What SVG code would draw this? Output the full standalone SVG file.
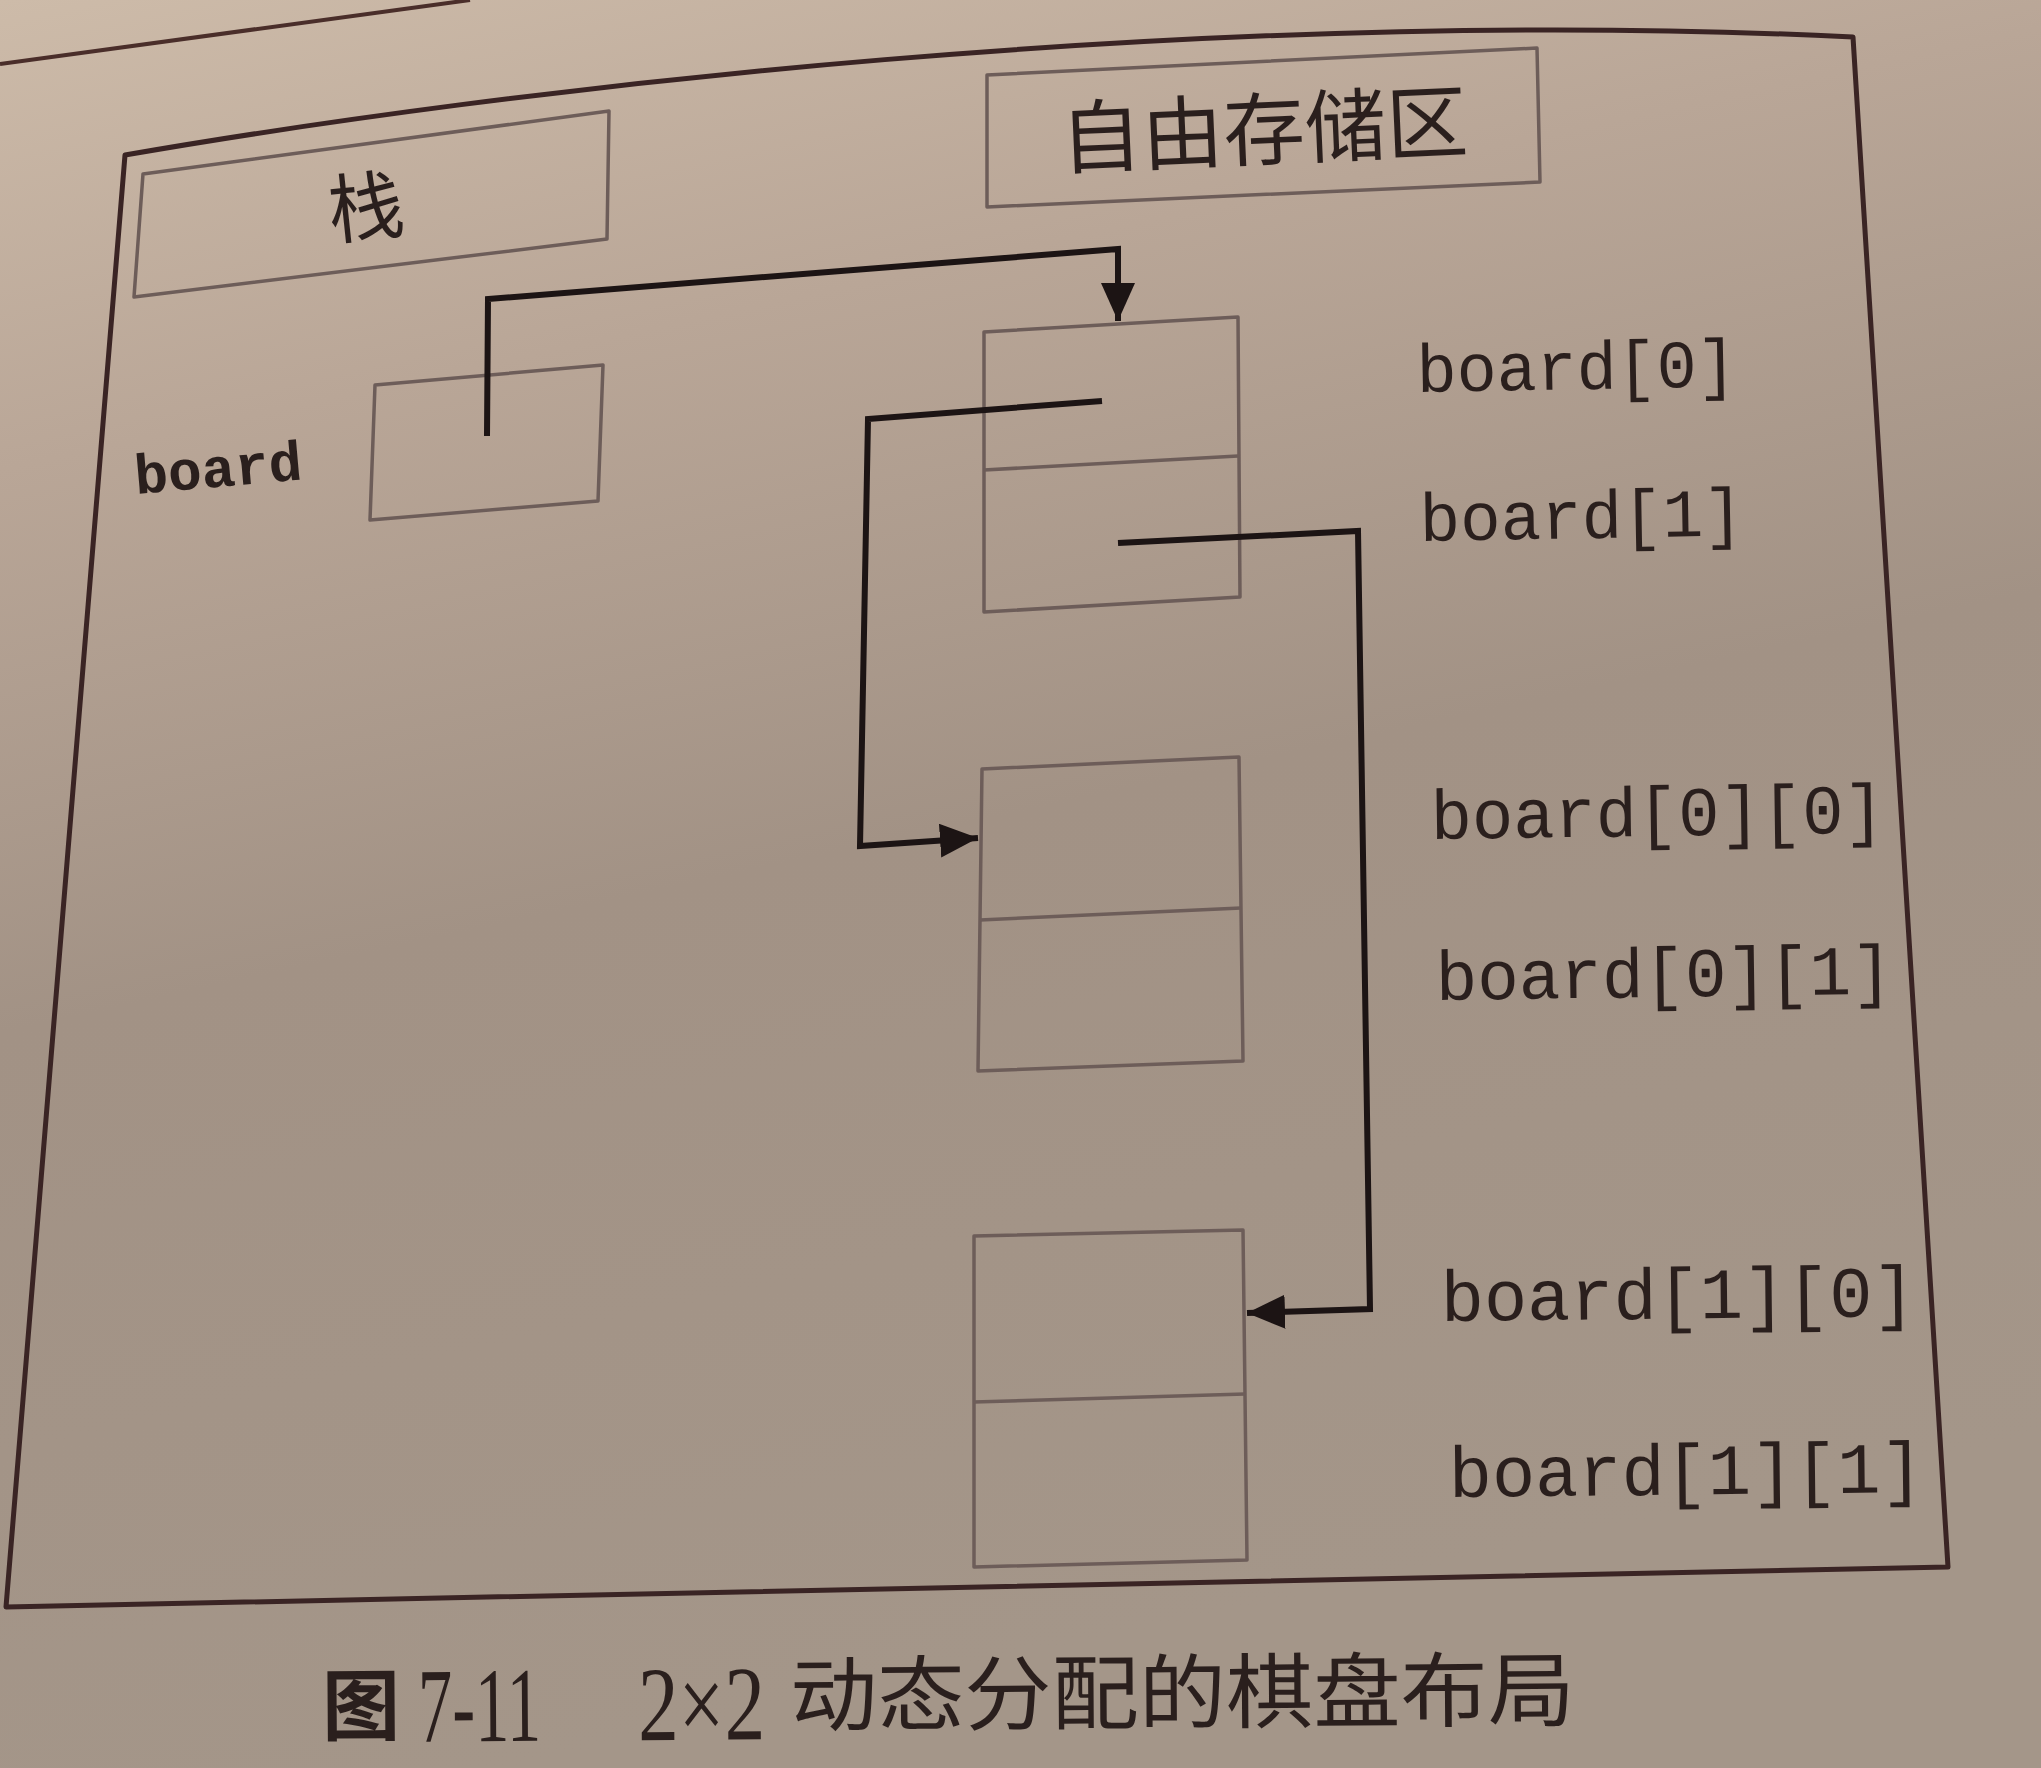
<svg xmlns="http://www.w3.org/2000/svg" width="2041" height="1768" viewBox="0 0 2041 1768">
  <defs>
    <linearGradient id="paper" x1="0" y1="0" x2="0.25" y2="1">
      <stop offset="0" stop-color="#cdbba9"/>
      <stop offset="0.25" stop-color="#b9a697"/>
      <stop offset="0.55" stop-color="#a29285"/>
      <stop offset="1" stop-color="#a49689"/>
    </linearGradient>
    <marker id="arrow" markerUnits="userSpaceOnUse" markerWidth="40" markerHeight="34" refX="38" refY="17" orient="auto">
      <path d="M0,0 L38,17 L0,34 Z" fill="#1c1414"/>
    </marker>
    <style>
      .frame { fill: none; stroke: #3a2424; stroke-width: 5; stroke-linejoin: round; }
      .box { fill: none; stroke: #6d5d59; stroke-width: 3.5; stroke-linejoin: round; }
      .conn { fill: none; stroke: #1c1414; stroke-width: 6; stroke-linejoin: miter; }
      .mono { font-family: "Liberation Mono", "DejaVu Sans Mono", monospace; fill: #2a1f1d; }
      .cjk { font-family: "Noto Sans CJK SC", "Noto Sans", sans-serif; fill: #2a1f1d; }
      .serif { font-family: "Liberation Serif", "Noto Sans CJK SC", serif; fill: #2a1f1d; }
    </style>
  </defs>

  <rect x="0" y="0" width="2041" height="1768" fill="url(#paper)"/>

  <!-- page header rule -->
  <line x1="0" y1="64" x2="470" y2="0" stroke="#4a2e2a" stroke-width="4"/>

  <!-- outer frame -->
  <g id="outer-frame">
    <path class="frame" d="M125,155 C500,90 1200,5 1853,37 L1948,1567 Q1000,1585 6,1607 Z"/>
  </g>

  <g id="stack-header">
    <polygon class="box" points="143,174 609,111 607,239 134,297"/>
    <text class="cjk" x="366" y="235" font-size="76" text-anchor="middle" transform="rotate(-6 366 208)">栈</text>
  </g>

  <g id="heap-header">
    <polygon class="box" points="987,75 1537,48 1540,182 987,207"/>
    <text class="cjk" x="1264" y="159" font-size="80" text-anchor="middle" textLength="408" lengthAdjust="spacingAndGlyphs" transform="rotate(-2.5 1264 130)">自由存储区</text>
  </g>

  <g id="board-var">
    <polygon class="box" points="375,385 603,365 598,501 370,520"/>
    <text class="mono" x="136" y="494" font-size="56" font-weight="bold" textLength="168" lengthAdjust="spacingAndGlyphs" transform="rotate(-5 136 494)">board</text>
  </g>

  <g id="row-array">
    <polygon class="box" points="984,332 1238,317 1240,597 984,612"/>
    <line class="box" x1="984" y1="470" x2="1238" y2="456"/>
    <text class="mono" x="1417" y="392" font-size="68" textLength="320" lengthAdjust="spacingAndGlyphs" transform="rotate(-1 1417 392)">board[0]</text>
    <text class="mono" x="1420" y="541" font-size="68" textLength="324" lengthAdjust="spacingAndGlyphs" transform="rotate(-1 1420 541)">board[1]</text>
  </g>

  <g id="row0-array">
    <polygon class="box" points="982,769 1239,757 1243,1061 978,1071"/>
    <line class="box" x1="980" y1="920" x2="1241" y2="908"/>
    <text class="mono" x="1431" y="839" font-size="70" textLength="454" lengthAdjust="spacingAndGlyphs" transform="rotate(-0.8 1431 839)">board[0][0]</text>
    <text class="mono" x="1436" y="1000" font-size="70" textLength="457" lengthAdjust="spacingAndGlyphs" transform="rotate(-0.8 1436 1000)">board[0][1]</text>
  </g>

  <g id="row1-array">
    <polygon class="box" points="974,1236 1243,1230 1247,1560 974,1567"/>
    <line class="box" x1="974" y1="1402" x2="1245" y2="1394"/>
    <text class="mono" x="1441" y="1321" font-size="72" textLength="475" lengthAdjust="spacingAndGlyphs" transform="rotate(-0.6 1441 1321)">board[1][0]</text>
    <text class="mono" x="1449" y="1497" font-size="72" textLength="475" lengthAdjust="spacingAndGlyphs" transform="rotate(-0.6 1449 1497)">board[1][1]</text>
  </g>

  <g id="connectors">
    <path class="conn" d="M487,436 L488,299 L1118,249 L1118,321" marker-end="url(#arrow)"/>
    <path class="conn" d="M1102,401 L868,419 L860,846 L978,838" marker-end="url(#arrow)"/>
    <path class="conn" d="M1118,543 L1358,531 L1370,1309 L1247,1313" marker-end="url(#arrow)"/>
  </g>

  <g id="caption" transform="rotate(-0.4 950 1700)">
    <text class="cjk" x="361" y="1730" font-size="78" font-weight="bold" text-anchor="middle">图</text>
    <text class="serif" x="418" y="1738" font-size="106" textLength="123" lengthAdjust="spacingAndGlyphs">7-11</text>
    <text class="serif" x="638" y="1738" font-size="106" textLength="127" lengthAdjust="spacingAndGlyphs">2×2</text>
    <text class="cjk" x="790" y="1724" font-size="82" textLength="785" lengthAdjust="spacingAndGlyphs">动态分配的棋盘布局</text>
  </g>
</svg>
